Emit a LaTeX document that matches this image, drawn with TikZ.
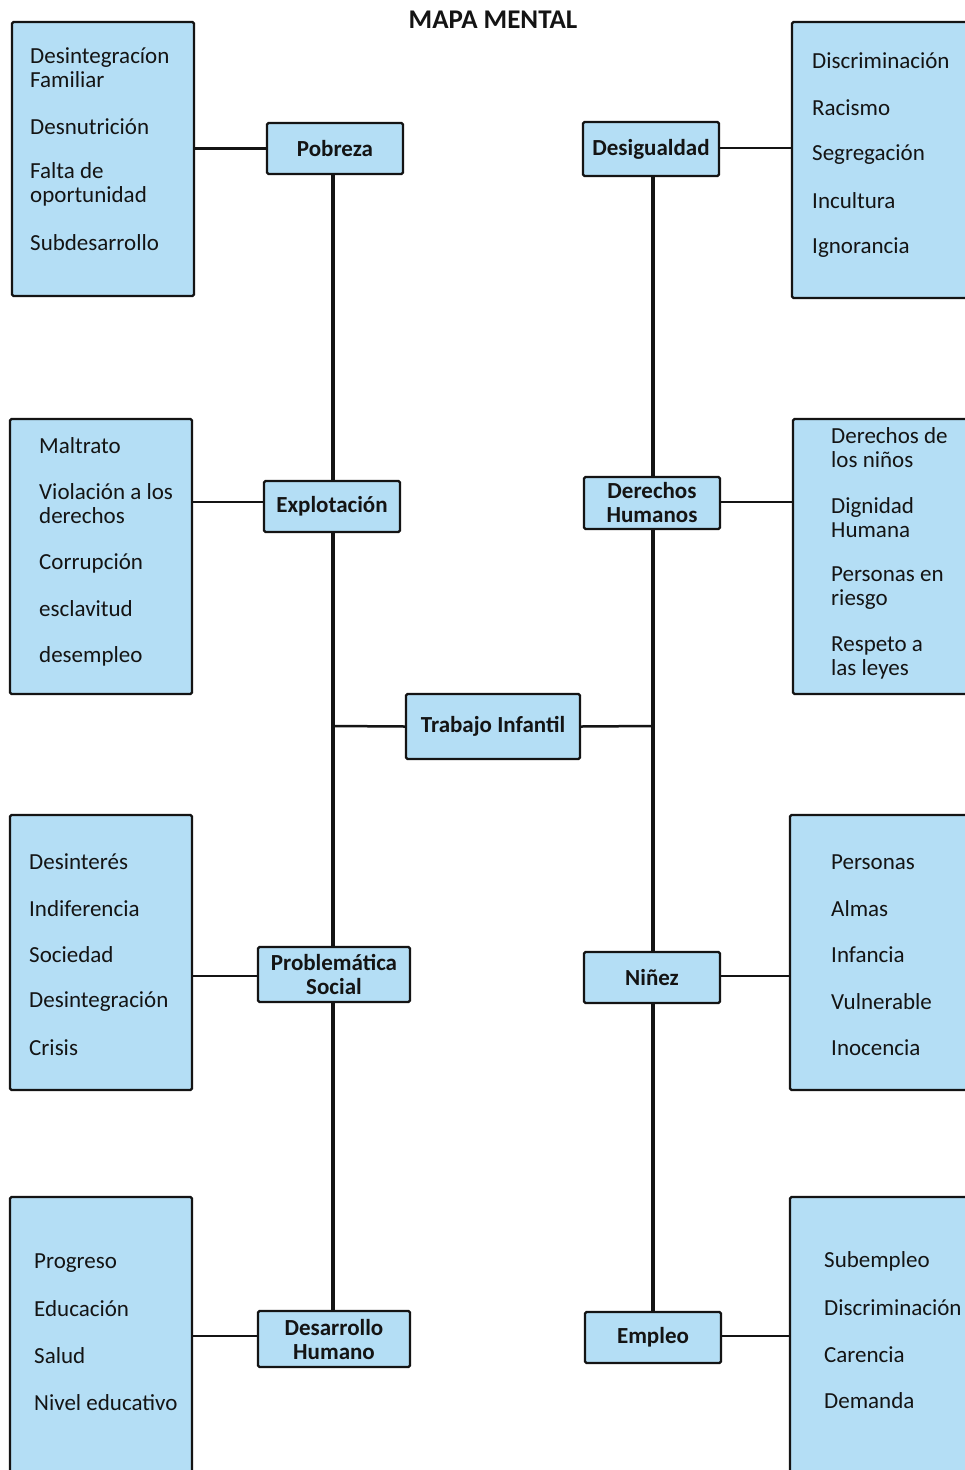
\documentclass[tikz,border=0pt]{standalone}
\usepackage{fontspec}
\setmainfont{Carlito}
\definecolor{boxblue}{RGB}{180,222,245}
\definecolor{ink}{RGB}{20,20,20}
\begin{document}
\begin{tikzpicture}[x=1pt,y=-1pt,
  sidebox/.style={draw=ink,line width=2.2pt,fill=boxblue,rounded corners=1.5pt},
  topic/.style={draw=ink,line width=2.2pt,fill=boxblue,rounded corners=1.5pt,
    inner sep=0pt,align=center,font=\fontsize{23}{24}\selectfont\bfseries,text=ink},
  item/.style={anchor=west,inner sep=0pt,align=left,
    font=\fontsize{23}{24}\selectfont,text=ink},
  link/.style={draw=ink,line width=2.5pt},
  spine/.style={draw=ink,line width=3.2pt}]
\clip (0,0) rectangle (965,1470);
\fill[white] (0,0) rectangle (965,1470);

\node[font=\fontsize{27}{28}\selectfont\bfseries,text=ink] (title) at (493,20) {MAPA MENTAL};

% ---- side boxes (left)
\node[sidebox,minimum width=182pt,minimum height=274pt,inner sep=0pt] (L1) at (103,159) {};
\node[sidebox,minimum width=182pt,minimum height=275pt,inner sep=0pt] (L2) at (101,556.5) {};
\node[sidebox,minimum width=182pt,minimum height=275pt,inner sep=0pt] (L3) at (101,952.5) {};
\node[sidebox,minimum width=182pt,minimum height=290pt,inner sep=0pt] (L4) at (101,1342) {};

% ---- side boxes (right)
\node[sidebox,minimum width=190pt,minimum height=276pt,inner sep=0pt] (R1) at (887,160) {};
\node[sidebox,minimum width=190pt,minimum height=275pt,inner sep=0pt] (R2) at (888,556.5) {};
\node[sidebox,minimum width=190pt,minimum height=275pt,inner sep=0pt] (R3) at (885,952.5) {};
\node[sidebox,minimum width=190pt,minimum height=290pt,inner sep=0pt] (R4) at (885,1342) {};

% ---- topic nodes
\node[topic,minimum width=136pt,minimum height=51pt] (pob) at (335,148.5) {Pobreza};
\node[topic,minimum width=136pt,minimum height=51pt] (exp) at (332,506.5) {Explotación};
\node[topic,minimum width=152pt,minimum height=55pt] (prob) at (334,974.5) {Problemática\\Social};
\node[topic,minimum width=152pt,minimum height=56pt] (dh) at (334,1339) {Desarrollo\\Humano};
\node[topic,minimum width=174pt,minimum height=65pt] (ti) at (493,726.5) {Trabajo Infantil};
\node[topic,minimum width=136pt,minimum height=54pt] (des) at (651,149) {Desigualdad};
\node[topic,minimum width=136pt,minimum height=52pt] (der) at (652,503) {Derechos\\Humanos};
\node[topic,minimum width=136pt,minimum height=51pt] (nin) at (652,977.5) {Niñez};
\node[topic,minimum width=136pt,minimum height=51pt] (emp) at (653,1337.5) {Empleo};

% ---- spines (segments between topic nodes)
\draw[spine] (pob.south -| 333,0) -- (exp.north -| 333,0);
\draw[spine] (exp.south -| 333,0) -- (prob.north -| 333,0);
\draw[spine] (prob.south -| 333,0) -- (dh.north -| 333,0);
\draw[spine] (des.south -| 653,0) -- (der.north -| 653,0);
\draw[spine] (der.south -| 653,0) -- (nin.north -| 653,0);
\draw[spine] (nin.south -| 653,0) -- (emp.north -| 653,0);

% ---- connectors
\draw[link] (L1.east |- pob.west) -- (pob.west);
\draw[link] (L2.east |- 0,502) -- (exp.west |- 0,502);
\draw[link] (L3.east |- 0,976) -- (prob.west |- 0,976);
\draw[link] (L4.east |- 0,1336) -- (dh.west |- 0,1336);
\draw[link] (des.east |- 0,148) -- (R1.west |- 0,148);
\draw[link] (der.east |- 0,502) -- (R2.west |- 0,502);
\draw[link] (nin.east |- 0,976) -- (R3.west |- 0,976);
\draw[link] (emp.east |- 0,1336) -- (R4.west |- 0,1336);
\draw[link] (333,726) -- (ti.west);
\draw[link] (ti.east) -- (653,726);

% ---- items left
\node[item] (l1a) at (30,68) {Desintegracíon\\Familiar};
\node[item] (l1b) at (30,127) {Desnutrición};
\node[item] (l1c) at (30,184) {Falta de\\oportunidad};
\node[item] (l1d) at (30,243) {Subdesarrollo};

\node[item] (l2a) at (39,446) {Maltrato};
\node[item] (l2b) at (39,504) {Violación a los\\derechos};
\node[item] (l2c) at (39,563) {Corrupción};
\node[item] (l2d) at (39,609) {esclavitud};
\node[item] (l2e) at (39,656) {desempleo};

\node[item] (l3a) at (29,862) {Desinterés};
\node[item] (l3b) at (29,909) {Indiferencia};
\node[item] (l3c) at (29,955) {Sociedad};
\node[item] (l3d) at (29,1002) {Desintegración};
\node[item] (l3e) at (29,1048) {Crisis};

\node[item] (l4a) at (34,1263) {Progreso};
\node[item] (l4b) at (34,1309) {Educación};
\node[item] (l4c) at (34,1356) {Salud};
\node[item] (l4d) at (34,1403) {Nivel educativo};

% ---- items right
\node[item] (r1a) at (812,61) {Discriminación};
\node[item] (r1b) at (812,108) {Racismo};
\node[item] (r1c) at (812,155) {Segregación};
\node[item] (r1d) at (812,201) {Incultura};
\node[item] (r1e) at (812,248) {Ignorancia};

\node[item] (r2a) at (831,448) {Derechos de\\los niños};
\node[item] (r2b) at (831,518) {Dignidad\\Humana};
\node[item] (r2c) at (831,588) {Personas en\\riesgo};
\node[item] (r2d) at (831,658) {Respeto a\\las leyes};

\node[item] (r3a) at (831,862) {Personas};
\node[item] (r3b) at (831,909) {Almas};
\node[item] (r3c) at (831,955) {Infancia};
\node[item] (r3d) at (831,1002) {Vulnerable};
\node[item] (r3e) at (831,1048) {Inocencia};

\node[item] (r4a) at (824,1261) {Subempleo};
\node[item] (r4b) at (824,1308) {Discriminación};
\node[item] (r4c) at (824,1355) {Carencia};
\node[item] (r4d) at (824,1401) {Demanda};
\end{tikzpicture}
\end{document}
